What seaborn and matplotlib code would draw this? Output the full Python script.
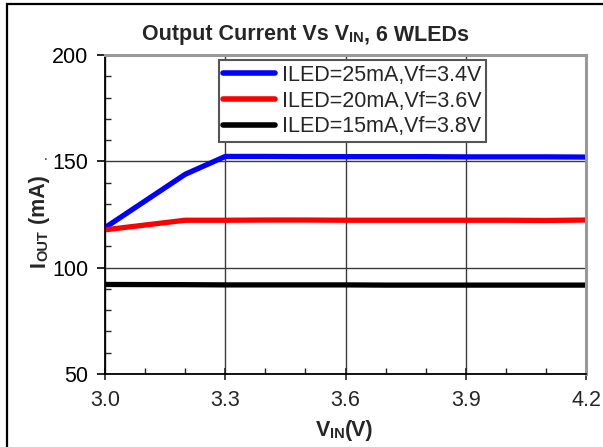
import numpy as np
import pandas as pd
import matplotlib
matplotlib.use("Agg")
import matplotlib.pyplot as plt
from matplotlib.ticker import MultipleLocator
import seaborn as sns

# --- data ---
vin = [3.0, 3.2, 3.3, 3.4, 3.5, 3.6, 3.7, 3.8, 3.9, 4.0, 4.1, 4.2]
iout_25ma = [118.8, 143.9, 152.3, 152.3, 152.2, 152.2, 152.2, 152.2, 152.1, 152.1, 152.1, 152.0]
iout_20ma = [117.8, 122.3, 122.3, 122.4, 122.4, 122.3, 122.3, 122.3, 122.3, 122.3, 122.2, 122.4]
iout_15ma = [92.1, 92.0, 91.9, 91.9, 91.9, 91.9, 91.8, 91.8, 91.8, 91.8, 91.8, 91.8]
labels = ["ILED=25mA,Vf=3.4V", "ILED=20mA,Vf=3.6V", "ILED=15mA,Vf=3.8V"]
colors = ["#0000ff", "#ff0000", "#000000"]

df = pd.concat([
    pd.DataFrame({"vin": vin, "iout": y, "series": lab})
    for y, lab in zip([iout_25ma, iout_20ma, iout_15ma], labels)
])

sns.set_style("ticks")
plt.rcParams["font.family"] = ["Liberation Sans", "DejaVu Sans"]
FS = 15.5

fig = plt.figure(figsize=(6.03, 4.47), dpi=100)
ax = fig.add_axes([105 / 603, 1 - 374 / 447, 481 / 603, 319 / 447])

sns.lineplot(data=df, x="vin", y="iout", hue="series", palette=colors,
             linewidth=3.8, ax=ax, sort=False)

ax.set_xlim(3.0, 4.2)
ax.set_ylim(50, 200)
ax.xaxis.set_major_locator(MultipleLocator(0.3))
ax.xaxis.set_minor_locator(MultipleLocator(0.1))
ax.yaxis.set_major_locator(MultipleLocator(50))
ax.yaxis.set_minor_locator(MultipleLocator(10))
ax.set_xticklabels([f"{v:.1f}" for v in ax.get_xticks()])
ax.grid(True, which="major", color="#3a3a3a", linewidth=1.0)
ax.set_axisbelow(True)

ax.tick_params(axis="y", which="major", direction="out", length=6, width=1.2,
               pad=6, labelsize=FS, colors="black")
ax.tick_params(axis="y", which="minor", direction="in", length=4, width=1.0)
ax.tick_params(axis="x", which="major", direction="inout", length=8, width=1.2,
               pad=7.5, labelsize=FS)
ax.tick_params(axis="x", which="minor", direction="in", length=4, width=1.0)

for side in ["left", "bottom"]:
    ax.spines[side].set_color("black")
    ax.spines[side].set_linewidth(1.3)
for side in ["top", "right"]:
    ax.spines[side].set_visible(True)
    ax.spines[side].set_color("#999999")
    ax.spines[side].set_linewidth(2.2)

ax.set_xlabel("")
ax.set_ylabel("")

sns.move_legend(ax, "upper right", bbox_to_anchor=(0.792, 0.984), title=None,
                fontsize=FS, frameon=True, fancybox=False, framealpha=1,
                edgecolor="#555555", borderaxespad=0, handlelength=2.4,
                handletextpad=0.3, labelspacing=0.22, borderpad=0.22)
leg = ax.get_legend()
leg.get_frame().set_linewidth(1.5)
for ln in leg.get_lines():
    ln.set_linewidth(4.0)
    ln.set_solid_capstyle("round")


def chain(first, parts, rotation=0):
    # append text pieces (normal / small caps) after a first text artist
    prev = first
    for txt, size in parts:
        if rotation:
            prev = ax.annotate(txt, xy=(1, 1), xycoords=prev, ha="right", va="bottom",
                               rotation=90, fontsize=size, fontweight="bold")
        else:
            prev = ax.annotate(txt, xy=(1, 0), xycoords=prev, ha="left", va="bottom",
                               fontsize=size, fontweight="bold")
    return prev


# title with small "IN"
t0 = fig.text(142 / 603, 1 - 40 / 447, "Output Current Vs V", fontsize=FS,
              fontweight="bold", ha="left", va="baseline")
chain(t0, [("IN", 10.5), (", 6 WLEDs", FS)])

# x label
x0 = fig.text(316 / 603, 1 - 436 / 447, "V", fontsize=FS, fontweight="bold",
              ha="left", va="baseline")
chain(x0, [("IN", 10.5), ("(V)", FS)])

# y label
y0 = fig.text(50 / 603, 1 - 267 / 447, "I", fontsize=FS, fontweight="bold",
              rotation=90, ha="right", va="bottom")
chain(y0, [("OUT", 10.5), (" (mA)", FS)], rotation=90)

fig.text(46 / 603, 1 - 160 / 447, ".", fontsize=10, ha="center", va="baseline")

# outer frame edges (top and left visible in the reference)
fig.add_artist(plt.Rectangle((6.5 / 603, -0.1), 1.2, 1.1 - 4.5 / 447, fill=False,
                             edgecolor="black", linewidth=1.6,
                             transform=fig.transFigure, clip_on=False))

fig.savefig("out.png", dpi=100)
